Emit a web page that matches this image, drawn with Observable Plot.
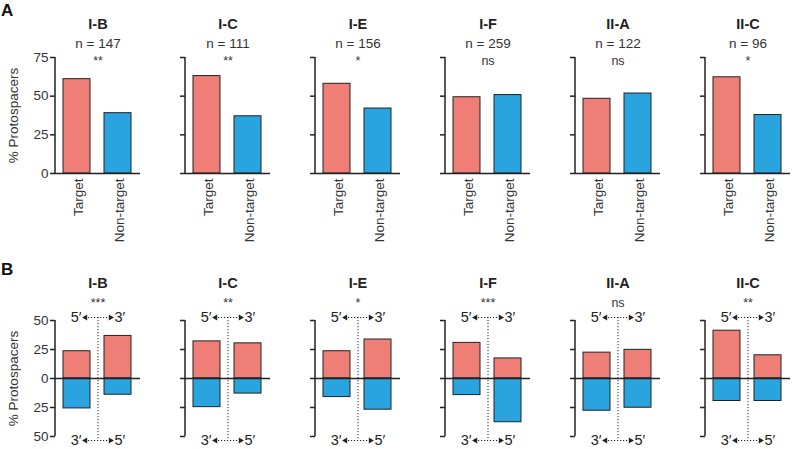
<!DOCTYPE html>
<html><head><meta charset="utf-8">
<script src="https://cdn.jsdelivr.net/npm/d3@7"></script>
<script src="https://cdn.jsdelivr.net/npm/@observablehq/plot@0.6"></script>
<style>
body{margin:0;background:#fff;font-family:"Liberation Sans",Arial,sans-serif;}
#wrap{position:relative;width:800px;height:449px;overflow:hidden;background:#fff}
.panel{position:absolute;left:0}
.letter{position:absolute;font-weight:bold;font-size:17px;color:#111;line-height:1}
</style></head>
<body><div id="wrap">
<div id="pb" class="panel" style="top:230px"></div>
<div id="pa" class="panel" style="top:0"></div>
<div class="letter" style="left:1px;top:2px">A</div>
<div class="letter" style="left:1px;top:261px">B</div>
</div>
<script>
// ---- data ----
const types = ["I-B", "I-C", "I-E", "I-F", "II-A", "II-C"];
const counts = [147, 111, 156, 259, 122, 96];
const sigA = ["**", "**", "*", "ns", "ns", "*"];
const sigB = ["***", "**", "*", "***", "ns", "**"];
const categories = ["Target", "Non-target"];
const targetPct = [61, 63, 58, 49.3, 48.3, 62.2];
const nonTargetPct = [39, 37, 42, 50.7, 51.7, 37.8];
const sides = ["5′ half", "3′ half"];
const bTargetLeft = [23.5, 32, 23.5, 30.7, 22.3, 41.2];
const bTargetRight = [36.7, 30.3, 33.6, 17.3, 24.7, 20];
const bNonTargetLeft = [25.8, 24.7, 16, 14.3, 27.8, 19.4];
const bNonTargetRight = [14, 13, 26.9, 37.7, 25.2, 19.4];
const ticksA = [0, 25, 50, 75];
const ticksB = [-50, -25, 0, 25, 50];
const topEnds = ["5′", "3′"];
const bottomEnds = ["3′", "5′"];

// ---- tables ----
const dataA = types.flatMap((t, i) => [
  {type: t, cat: "Target", value: targetPct[i]},
  {type: t, cat: "Non-target", value: nonTargetPct[i]}
]);
const dataB = types.flatMap((t, i) => [
  {type: t, side: sides[0], strand: "Target", value: bTargetLeft[i]},
  {type: t, side: sides[1], strand: "Target", value: bTargetRight[i]},
  {type: t, side: sides[0], strand: "Non-target", value: -bNonTargetLeft[i]},
  {type: t, side: sides[1], strand: "Non-target", value: -bNonTargetRight[i]}
]);
const heads = types.map((t, i) => ({type: t, n: counts[i], sA: sigA[i], sB: sigB[i]}));

// ---- style ----
const ink = "#222";
const grey = "#333";
const red = "#ef7e76";
const blue = "#29a4df";
const fs = 13.5;
const font = "'Liberation Sans', Arial, sans-serif";
const fxOpts = {domain: types, paddingInner: 0.3435, paddingOuter: 0, axis: null};
const xBand = {paddingInner: 1 / 3, paddingOuter: 0.19};
const common = {
  width: 800, marginLeft: 52, marginRight: 7,
  style: {background: "transparent", overflow: "visible", fontFamily: font, fontSize: "13.5px", color: ink}
};

const plotA = Plot.plot({
  ...common,
  height: 230, marginTop: 57, marginBottom: 57,
  fx: fxOpts,
  x: {domain: categories, ...xBand},
  y: {domain: [0, 75]},
  color: {domain: categories, range: [red, blue]},
  marks: [
    Plot.barY(dataA, {fx: "type", x: "cat", y: "value", fill: "cat", stroke: ink, strokeWidth: 1}),
    Plot.ruleY([0], {stroke: ink, strokeWidth: 1.5}),
    Plot.ruleX([0], {x: null, y1: 0, y2: 75, dx: -43, stroke: ink, strokeWidth: 1.5}),
    Plot.axisY({facetAnchor: null, ticks: ticksA, tickSize: 5, fill: "none", stroke: ink, strokeWidth: 1.5, label: null}),
    Plot.axisY({ticks: ticksA, tickSize: 0, tickPadding: 7, fill: grey, fontSize: fs, label: "% Protospacers", labelArrow: "none", labelAnchor: "center", labelOffset: 47}),
    Plot.axisX({tickRotate: -90, tickSize: 0, tickPadding: 5, label: null, fill: grey, fontSize: fs, dx: 2}),
    Plot.text(heads, {fx: "type", text: "type", frameAnchor: "top", lineAnchor: "middle", dy: -33, fontWeight: "bold", fontSize: 14.5, fill: ink}),
    Plot.text(heads, {fx: "type", text: d => `n = ${d.n}`, frameAnchor: "top", lineAnchor: "middle", dy: -14, fontSize: fs, fill: grey}),
    Plot.text(heads, {fx: "type", text: "sA", frameAnchor: "top", lineAnchor: "middle", dy: 3, fontSize: 12.5, fill: grey})
  ]
});
document.getElementById("pa").append(plotA);

const dotted = {stroke: ink, strokeWidth: 1, strokeDasharray: "1.2,1.8"};
const head = {frameAnchor: "middle", symbol: "triangle", r: 2.2, fill: ink, stroke: null};
const plotB = Plot.plot({
  ...common,
  height: 219, marginTop: 90, marginBottom: 13,
  fx: fxOpts,
  x: {domain: sides, ...xBand, axis: null},
  y: {domain: [-50, 50]},
  color: {domain: categories, range: [red, blue]},
  marks: [
    Plot.barY(dataB, {fx: "type", x: "side", y: "value", fill: "strand", stroke: ink, strokeWidth: 1}),
    Plot.ruleY([0], {stroke: ink, strokeWidth: 1.5}),
    Plot.ruleX([0], {x: null, y1: -50, y2: 50, dx: -43, stroke: ink, strokeWidth: 1.5}),
    Plot.axisY({facetAnchor: null, ticks: ticksB, tickSize: 5, fill: "none", stroke: ink, strokeWidth: 1.5, label: null}),
    Plot.axisY({ticks: ticksB, tickSize: 0, tickPadding: 7, fill: grey, fontSize: fs, tickFormat: d => Math.abs(d), label: "% Protospacers", labelArrow: "none", labelAnchor: "center", labelOffset: 47}),
    // dotted divider and 5'/3' arrows
    Plot.ruleX([0], {x: null, y1: 50, y2: -50, insetTop: -3, insetBottom: -4, ...dotted}),
    Plot.ruleY([50], {dy: -3, insetLeft: 30, insetRight: 30, ...dotted}),
    Plot.ruleY([-50], {dy: 4, insetLeft: 30, insetRight: 30, ...dotted}),
    Plot.dot([50], {y: d => d, dx: -12.5, dy: -3, rotate: -90, ...head}),
    Plot.dot([50], {y: d => d, dx: 12.5, dy: -3, rotate: 90, ...head}),
    Plot.dot([-50], {y: d => d, dx: -12.5, dy: 4, rotate: -90, ...head}),
    Plot.dot([-50], {y: d => d, dx: 12.5, dy: 4, rotate: 90, ...head}),
    Plot.text([topEnds[0]], {y: [50], text: d => d, frameAnchor: "middle", dx: -16.5, dy: -3, textAnchor: "end", fontSize: 14.5, fill: ink}),
    Plot.text([topEnds[1]], {y: [50], text: d => d, frameAnchor: "middle", dx: 16.5, dy: -3, textAnchor: "start", fontSize: 14.5, fill: ink}),
    Plot.text([bottomEnds[0]], {y: [-50], text: d => d, frameAnchor: "middle", dx: -16.5, dy: 4, textAnchor: "end", fontSize: 14.5, fill: ink}),
    Plot.text([bottomEnds[1]], {y: [-50], text: d => d, frameAnchor: "middle", dx: 16.5, dy: 4, textAnchor: "start", fontSize: 14.5, fill: ink}),
    Plot.text(heads, {fx: "type", text: "type", frameAnchor: "top", lineAnchor: "middle", dy: -37, fontWeight: "bold", fontSize: 14.5, fill: ink}),
    Plot.text(heads, {fx: "type", text: "sB", frameAnchor: "top", lineAnchor: "middle", dy: -18, fontSize: 12.5, fill: grey})
  ]
});
document.getElementById("pb").append(plotB);
</script>
</body></html>
